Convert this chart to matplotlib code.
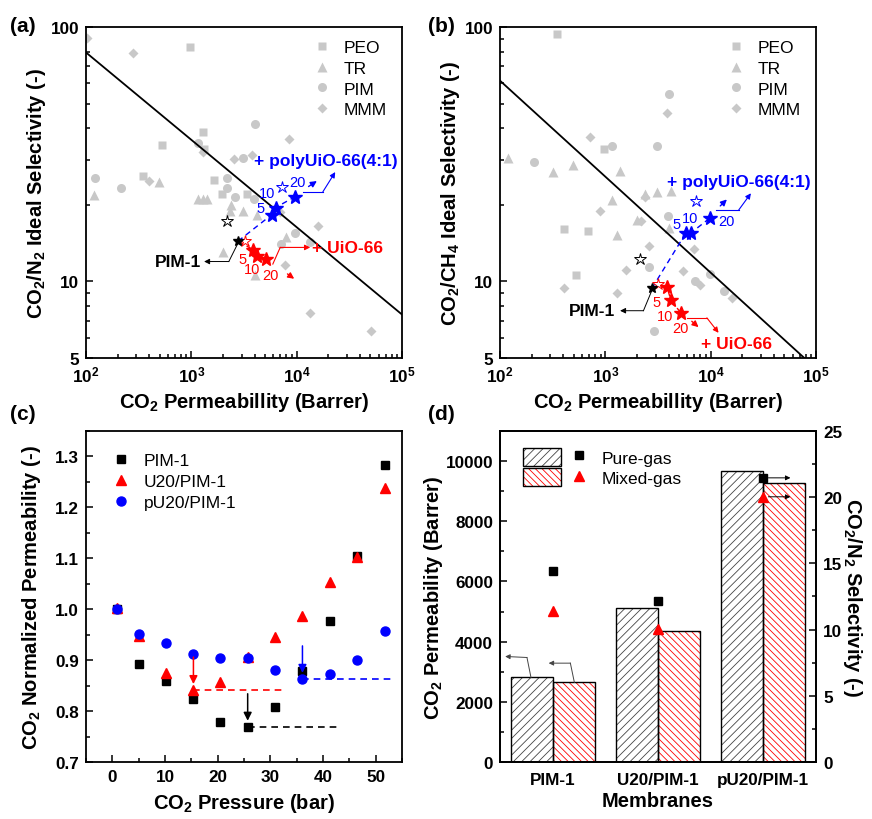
import matplotlib
matplotlib.use('Agg')
import numpy as np
import matplotlib.pyplot as plt
from matplotlib.ticker import LogLocator, NullFormatter, MultipleLocator
from matplotlib.legend_handler import HandlerTuple
from matplotlib.patches import Patch
from matplotlib.lines import Line2D

plt.rcParams['font.family'] = ['Liberation Sans', 'DejaVu Sans']
plt.rcParams['font.weight'] = 'bold'
plt.rcParams['mathtext.default'] = 'regular'
plt.rcParams['hatch.linewidth'] = 0.6

GREY = '#c8c8c8'
BLUE = '#0000ff'
RED = '#ff0000'

# ---- (a) CO2/N2 literature data (permeability, selectivity) ----
peo_a_p = [973, 1285, 527, 1322, 345, 1633, 1977, 3366]
peo_a_s = [83.5, 38.8, 34.5, 33.1, 25.9, 25.0, 22.1, 22.0]
tr_a_p = [120, 490, 1167, 1303, 1423, 2387, 2334, 3126, 4188, 1990, 7960, 3980]
tr_a_s = [21.8, 24.6, 21.1, 21.1, 21.1, 20.0, 18.9, 18.9, 18.2, 13.1, 14.9, 10.6]
pim_a_p = [121, 213, 1159, 2174, 2190, 2624, 3126, 4008, 3948, 7130, 9620, 13450]
pim_a_s = [25.5, 23.3, 35.1, 25.5, 23.2, 21.5, 30.5, 41.6, 21.0, 14.0, 15.5, 14.3]
mmm_a_p = [103, 277, 400, 1285, 2547, 3749, 8490, 6970, 15790, 7780, 13450, 50700]
mmm_a_s = [90.8, 78.7, 24.8, 32.2, 30.4, 31.3, 36.4, 18.8, 16.5, 11.6, 7.52, 6.41]

pim1_a = (2780, 14.4)
ref_open_a = (2160, 17.2)
uio_open_a = (3200, 14.4)
uio_a_p = [3890, 4190, 5090]
uio_a_s = [13.3, 12.6, 12.3]
puio_a_p = [5810, 6300, 9620]
puio_a_s = [18.3, 19.5, 21.5]
puio_open_a = (7230, 23.4)

# ---- (b) CO2/CH4 literature data ----
peo_b_p = [345, 973, 406, 686, 524]
peo_b_s = [93.6, 33.0, 16.1, 15.8, 10.6]
tr_b_p = [118, 321, 490, 1380, 1159, 1285, 1990, 2387, 3126, 4244, 3980]
tr_b_s = [30.6, 26.9, 28.8, 27.2, 20.8, 15.2, 17.4, 22.0, 22.4, 22.6, 16.2]
pim_b_p = [212, 1159, 3084, 4008, 3948, 2606, 7130, 9750, 13250, 2904]
pim_b_s = [29.5, 34.0, 34.0, 54.6, 18.1, 11.4, 10.0, 10.7, 9.2, 6.41]
mmm_b_p = [721, 3810, 898, 2190, 2400, 2570, 1563, 1303, 403, 5520, 6870, 7840, 15890]
mmm_b_s = [36.9, 45.8, 18.9, 17.2, 21.5, 13.8, 11.1, 9.0, 9.42, 11.0, 13.4, 9.64, 8.61]

pim1_b = (2780, 9.42)
ref_open_b = (2140, 12.3)
uio_open_b = (3150, 9.77)
uio_b_p = [3840, 4190, 5210]
uio_b_s = [9.53, 8.44, 7.52]
puio_b_p = [5810, 6490, 9750]
puio_b_s = [15.5, 15.5, 17.7]
puio_open_b = (7230, 20.7)

# Robeson 2008 upper bounds
bound_p = [1e2, 1e5]
bound_a_s = [79.4, 7.41]
bound_b_s = [61.5, 4.54]

# ---- (c) normalized permeability vs pressure ----
pressure = [0.8, 5.0, 10.2, 15.4, 20.5, 25.7, 30.9, 36.1, 41.3, 46.4, 51.7]
norm_pim1 = [1.000, 0.893, 0.859, 0.824, 0.779, 0.769, 0.808, 0.879, 0.977, 1.105, 1.284]
norm_u20 = [1.002, 0.948, 0.875, 0.841, 0.857, 0.907, 0.946, 0.987, 1.053, 1.102, 1.238]
norm_pu20 = [1.000, 0.951, 0.934, 0.913, 0.905, 0.904, 0.881, 0.863, 0.872, 0.901, 0.957]
min_line_end = [42.9, 32.7, 53.6]   # PIM-1, U20, pU20

# ---- (d) mixed gas ----
membranes = ['PIM-1', 'U20/PIM-1', 'pU20/PIM-1']
perm_pure = [2810, 5133, 9679]
perm_mixed = [2644, 4369, 9270]
sel_pure = [14.45, 12.19, 21.46]
sel_mixed = [11.4, 10.05, 20.03]

LIT_STYLE = [('s', 6, 'PEO'), ('^', 7, 'TR'), ('o', 6.5, 'PIM'), ('D', 5.5, 'MMM')]
LABEL_FS = 14.5
TICK_FS = 12.3


def style_axes(ax):
    for s in ax.spines.values():
        s.set_linewidth(1.3)
    ax.tick_params(which='both', direction='in', top=False, right=False,
                   labelsize=TICK_FS, width=1.1, pad=5)
    ax.tick_params(which='major', length=5)
    ax.tick_params(which='minor', length=3)


def bent_arrow(ax, pts, color, lw=0.8, ms=8):
    if len(pts) > 2:
        ax.plot([p[0] for p in pts[:-1]], [p[1] for p in pts[:-1]],
                color=color, lw=lw, zorder=6)
    ax.annotate('', xy=pts[-1], xytext=pts[-2],
                arrowprops=dict(arrowstyle='-|>', color=color, lw=lw,
                                mutation_scale=ms, shrinkA=0, shrinkB=0), zorder=6)


def label_nums(ax, pos, color):
    for txt, (x, y) in zip(['5', '10', '20'], pos):
        ax.text(x, y, txt, color=color, fontsize=10.5, fontweight='normal',
                ha='center', va='center', zorder=7)


def log_panel(ax, lit, bound_s, pim1, ref_open, uio_open, uio_p, uio_s,
              puio_p, puio_s, puio_open, ylabel):
    for (p, s), (mk, ms, name) in zip(lit, LIT_STYLE):
        ax.plot(p, s, ls='none', marker=mk, ms=ms, color=GREY, mec='none',
                label=name, zorder=2)
    ax.plot(bound_p, bound_s, color='black', lw=1.3, zorder=3)
    ax.plot([pim1[0]] + puio_p, [pim1[1]] + puio_s, color=BLUE, lw=1,
            ls=(0, (4, 3)), zorder=3)
    ax.plot([pim1[0]] + uio_p, [pim1[1]] + uio_s, color=RED, lw=1,
            ls=(0, (4, 3)), zorder=3)
    ax.plot(*ref_open, marker='*', ms=9, mfc='white', mec='black', mew=0.7, zorder=4)
    ax.plot(*uio_open, marker='*', ms=9, mfc='white', mec=RED, mew=0.7, zorder=4)
    ax.plot(*puio_open, marker='*', ms=9, mfc='white', mec=BLUE, mew=0.7, zorder=4)
    ax.plot(uio_p, uio_s, ls='none', marker='*', ms=10.5, color=RED, zorder=5)
    ax.plot(puio_p, puio_s, ls='none', marker='*', ms=10.5, color=BLUE, zorder=5)
    ax.plot(*pim1, marker='*', ms=7, color='black', zorder=6)

    ax.set_xscale('log')
    ax.set_yscale('log')
    ax.set_xlim(1e2, 1e5)
    ax.set_ylim(5, 100)
    ax.set_yticks([5, 10, 100], ['5', '10', '100'])
    ax.yaxis.set_minor_locator(LogLocator(base=10, subs=np.arange(2, 10)))
    ax.yaxis.set_minor_formatter(NullFormatter())
    ax.xaxis.set_minor_locator(LogLocator(base=10, subs=np.arange(2, 10)))
    ax.xaxis.set_minor_formatter(NullFormatter())
    style_axes(ax)
    ax.set_xlabel('CO$_2$ Permeabillity (Barrer)', fontsize=LABEL_FS, fontweight='bold', labelpad=4)
    ax.set_ylabel(ylabel, fontsize=LABEL_FS, fontweight='bold', labelpad=2)
    ax.legend(loc='upper right', bbox_to_anchor=(1.0, 1.008), frameon=False,
              prop={'size': 12.5, 'weight': 'normal'}, handlelength=1.5,
              handletextpad=0.5, labelspacing=0.32, borderpad=0.4)


fig = plt.figure(figsize=(8.72, 8.2), dpi=100)
ax_a = fig.add_axes([0.0986, 0.5622, 0.3624, 0.4037])
ax_b = fig.add_axes([0.5734, 0.5622, 0.3624, 0.4037])
ax_c = fig.add_axes([0.0986, 0.0695, 0.3624, 0.4037])
ax_d = fig.add_axes([0.5734, 0.0695, 0.3624, 0.4037])

# ---------------- (a) ----------------
log_panel(ax_a, [(peo_a_p, peo_a_s), (tr_a_p, tr_a_s), (pim_a_p, pim_a_s), (mmm_a_p, mmm_a_s)],
          bound_a_s, pim1_a, ref_open_a, uio_open_a, uio_a_p, uio_a_s,
          puio_a_p, puio_a_s, puio_open_a, 'CO$_2$/N$_2$ Ideal Selectivity (-)')
ax_a.text(3950, 29.9, '+ polyUiO-66(4:1)', color=BLUE, fontsize=12.5, ha='left', va='center', zorder=7)
bent_arrow(ax_a, [(11460, 22.5), (17740, 22.5), (23240, 26.9)], BLUE)
bent_arrow(ax_a, [(12970, 23.6), (15560, 24.8)], BLUE, lw=1, ms=9)
ax_a.text(13930, 13.6, '+ UiO-66', color=RED, fontsize=12.5, ha='left', va='center', zorder=7)
bent_arrow(ax_a, [(5940, 11.7), (6980, 13.6), (13450, 13.6)], RED)
bent_arrow(ax_a, [(8180, 10.7), (9480, 10.24)], RED, lw=1, ms=9)
ax_a.text(1240, 11.97, 'PIM-1', color='black', fontsize=12.5, ha='right', va='center', zorder=7)
bent_arrow(ax_a, [(2742, 14.0), (2270, 11.97), (1322, 11.97)], 'black', lw=0.7)
label_nums(ax_a, [(4500, 19.5), (5210, 22.3), (10190, 24.6)], BLUE)
label_nums(ax_a, [(3080, 12.3), (3810, 11.2), (5690, 10.6)], RED)

# ---------------- (b) ----------------
log_panel(ax_b, [(peo_b_p, peo_b_s), (tr_b_p, tr_b_s), (pim_b_p, pim_b_s), (mmm_b_p, mmm_b_s)],
          bound_b_s, pim1_b, ref_open_b, uio_open_b, uio_b_p, uio_b_s,
          puio_b_p, puio_b_s, puio_open_b, 'CO$_2$/CH$_4$ Ideal Selectivity (-)')
ax_b.text(3890, 24.6, '+ polyUiO-66(4:1)', color=BLUE, fontsize=12.5, ha='left', va='center', zorder=7)
bent_arrow(ax_b, [(11300, 19.05), (18400, 19.05), (24100, 22.2)], BLUE)
bent_arrow(ax_b, [(12330, 19.8), (14250, 21.0)], BLUE, lw=1, ms=9)
ax_b.text(8070, 5.70, '+ UiO-66', color=RED, fontsize=12.5, ha='left', va='center', zorder=7)
bent_arrow(ax_b, [(5940, 7.19), (9200, 7.19), (11880, 6.28)], RED)
bent_arrow(ax_b, [(6620, 6.97), (7670, 6.61)], RED, lw=1, ms=9)
ax_b.text(1240, 7.67, 'PIM-1', color='black', fontsize=12.5, ha='right', va='center', zorder=7)
bent_arrow(ax_b, [(2760, 9.2), (2300, 7.67), (1380, 7.67)], 'black', lw=0.7)
label_nums(ax_b, [(4700, 16.8), (6400, 17.7), (14060, 17.3)], BLUE)
label_nums(ax_b, [(3080, 8.30), (3720, 7.29), (5140, 6.53)], RED)

# ---------------- (c) ----------------
series_c = [(norm_pim1, 's', 6, 'black', 'PIM-1'),
            (norm_u20, '^', 7, RED, 'U20/PIM-1'),
            (norm_pu20, 'o', 6.5, BLUE, 'pU20/PIM-1')]
for (vals, mk, ms, col, name), x_end in zip(series_c, min_line_end):
    ax_c.plot(pressure, vals, ls='none', marker=mk, ms=ms, color=col, label=name, zorder=3)
    i = int(np.argmin(vals))
    ax_c.plot([pressure[i], x_end], [vals[i], vals[i]], color=col, lw=1.2,
              ls=(0, (4, 3)), zorder=2)
    ax_c.annotate('', xy=(pressure[i], vals[i] + 0.012), xytext=(pressure[i], vals[i] + 0.065),
                  arrowprops=dict(arrowstyle='-|>', color=col, lw=1.1, mutation_scale=12,
                                  shrinkA=0, shrinkB=0), zorder=4)
ax_c.set_xlim(-5, 55)
ax_c.set_ylim(0.7, 1.35)
ax_c.xaxis.set_major_locator(MultipleLocator(10))
ax_c.xaxis.set_minor_locator(MultipleLocator(5))
ax_c.yaxis.set_major_locator(MultipleLocator(0.1))
ax_c.yaxis.set_minor_locator(MultipleLocator(0.05))
ax_c.yaxis.set_major_formatter(matplotlib.ticker.FormatStrFormatter('%.1f'))
style_axes(ax_c)
ax_c.set_xlabel('CO$_2$ Pressure (bar)', fontsize=LABEL_FS, fontweight='bold', labelpad=5)
ax_c.set_ylabel('CO$_2$ Normalized Permeability (-)', fontsize=LABEL_FS, fontweight='bold', labelpad=9)
ax_c.legend(loc='upper left', bbox_to_anchor=(0.03, 0.97), frameon=False,
            prop={'size': 12.5, 'weight': 'normal'}, handlelength=1.5,
            handletextpad=0.6, labelspacing=0.32, borderpad=0.2)

# ---------------- (d) ----------------
xc = np.arange(1, len(membranes) + 1)
bw = 0.4
ax_d.bar(xc - bw / 2, perm_pure, bw, color='white', edgecolor='#444444', hatch='////', lw=0, zorder=2)
ax_d.bar(xc - bw / 2, perm_pure, bw, fill=False, edgecolor='black', lw=1.0, zorder=3)
ax_d.bar(xc + bw / 2, perm_mixed, bw, color='white', edgecolor=RED, hatch='\\\\\\\\\\', lw=0, zorder=2)
ax_d.bar(xc + bw / 2, perm_mixed, bw, fill=False, edgecolor='black', lw=1.0, zorder=3)
ax_d.set_xlim(0.5, 3.5)
ax_d.set_ylim(0, 11000)
ax_d.set_xticks(xc, membranes)
ax_d.yaxis.set_major_locator(MultipleLocator(2000))
ax_d.yaxis.set_minor_locator(MultipleLocator(1000))
style_axes(ax_d)
ax_d.tick_params(axis='x', which='both', length=0, pad=7)
ax_d.set_xlabel('Membranes', fontsize=LABEL_FS, fontweight='bold', labelpad=3)
ax_d.set_ylabel('CO$_2$ Permeability (Barrer)', fontsize=LABEL_FS, fontweight='bold', labelpad=0)

ax_d2 = ax_d.twinx()
ax_d2.plot(xc, sel_pure, ls='none', marker='s', ms=6, color='black', zorder=4)
ax_d2.plot(xc, sel_mixed, ls='none', marker='^', ms=7.5, color=RED, zorder=4)
ax_d2.set_ylim(0, 25)
ax_d2.yaxis.set_major_locator(MultipleLocator(5))
ax_d2.yaxis.set_minor_locator(MultipleLocator(2.5))
ax_d2.tick_params(which='both', direction='in', left=False, right=True, labelsize=TICK_FS,
                  width=1.1, pad=5)
ax_d2.tick_params(which='major', length=5)
ax_d2.tick_params(which='minor', length=3)
for s in ax_d2.spines.values():
    s.set_linewidth(1.3)
ax_d2.set_ylabel('CO$_2$/N$_2$ Selectivity (-)', fontsize=LABEL_FS, fontweight='bold',
                 rotation=270, labelpad=16)
bent_arrow(ax_d2, [(3.048, sel_pure[2]), (3.257, sel_pure[2])], 'black', lw=0.7, ms=7)
bent_arrow(ax_d2, [(3.048, sel_mixed[2]), (3.257, sel_mixed[2])], 'black', lw=0.7, ms=7)
bent_arrow(ax_d, [(0.794, 2810), (0.756, 3473), (0.549, 3507)], '#444444', lw=0.7, ms=7)
bent_arrow(ax_d, [(1.206, 2644), (1.168, 3285), (0.962, 3285)], '#444444', lw=0.7, ms=7)


class Stack(tuple):
    pass


h_pure = (Stack((Patch(facecolor='white', edgecolor='#444444', hatch='////', lw=0),
                 Patch(fill=False, edgecolor='black', lw=1.0))),
          Line2D([], [], ls='none', marker='s', ms=6, color='black'))
h_mixed = (Stack((Patch(facecolor='white', edgecolor=RED, hatch='\\\\\\\\\\', lw=0),
                  Patch(fill=False, edgecolor='black', lw=1.0))),
           Line2D([], [], ls='none', marker='^', ms=7.5, color=RED))
ax_d.legend([h_pure, h_mixed], ['Pure-gas', 'Mixed-gas'],
            handler_map={Stack: HandlerTuple(ndivide=1), tuple: HandlerTuple(ndivide=None, pad=0)},
            loc='upper left', bbox_to_anchor=(0.035, 0.985), frameon=False,
            prop={'size': 12.5, 'weight': 'normal'}, handlelength=4.3, handleheight=1.2,
            handletextpad=0.2, labelspacing=0.15, borderpad=0.2)

# panel letters
fig.text(0.011, 0.979, '(a)', fontsize=15, fontweight='bold', va='top')
fig.text(0.491, 0.979, '(b)', fontsize=15, fontweight='bold', va='top')
fig.text(0.011, 0.506, '(c)', fontsize=15, fontweight='bold', va='top')
fig.text(0.491, 0.506, '(d)', fontsize=15, fontweight='bold', va='top')

fig.savefig('out.png', dpi=100)
